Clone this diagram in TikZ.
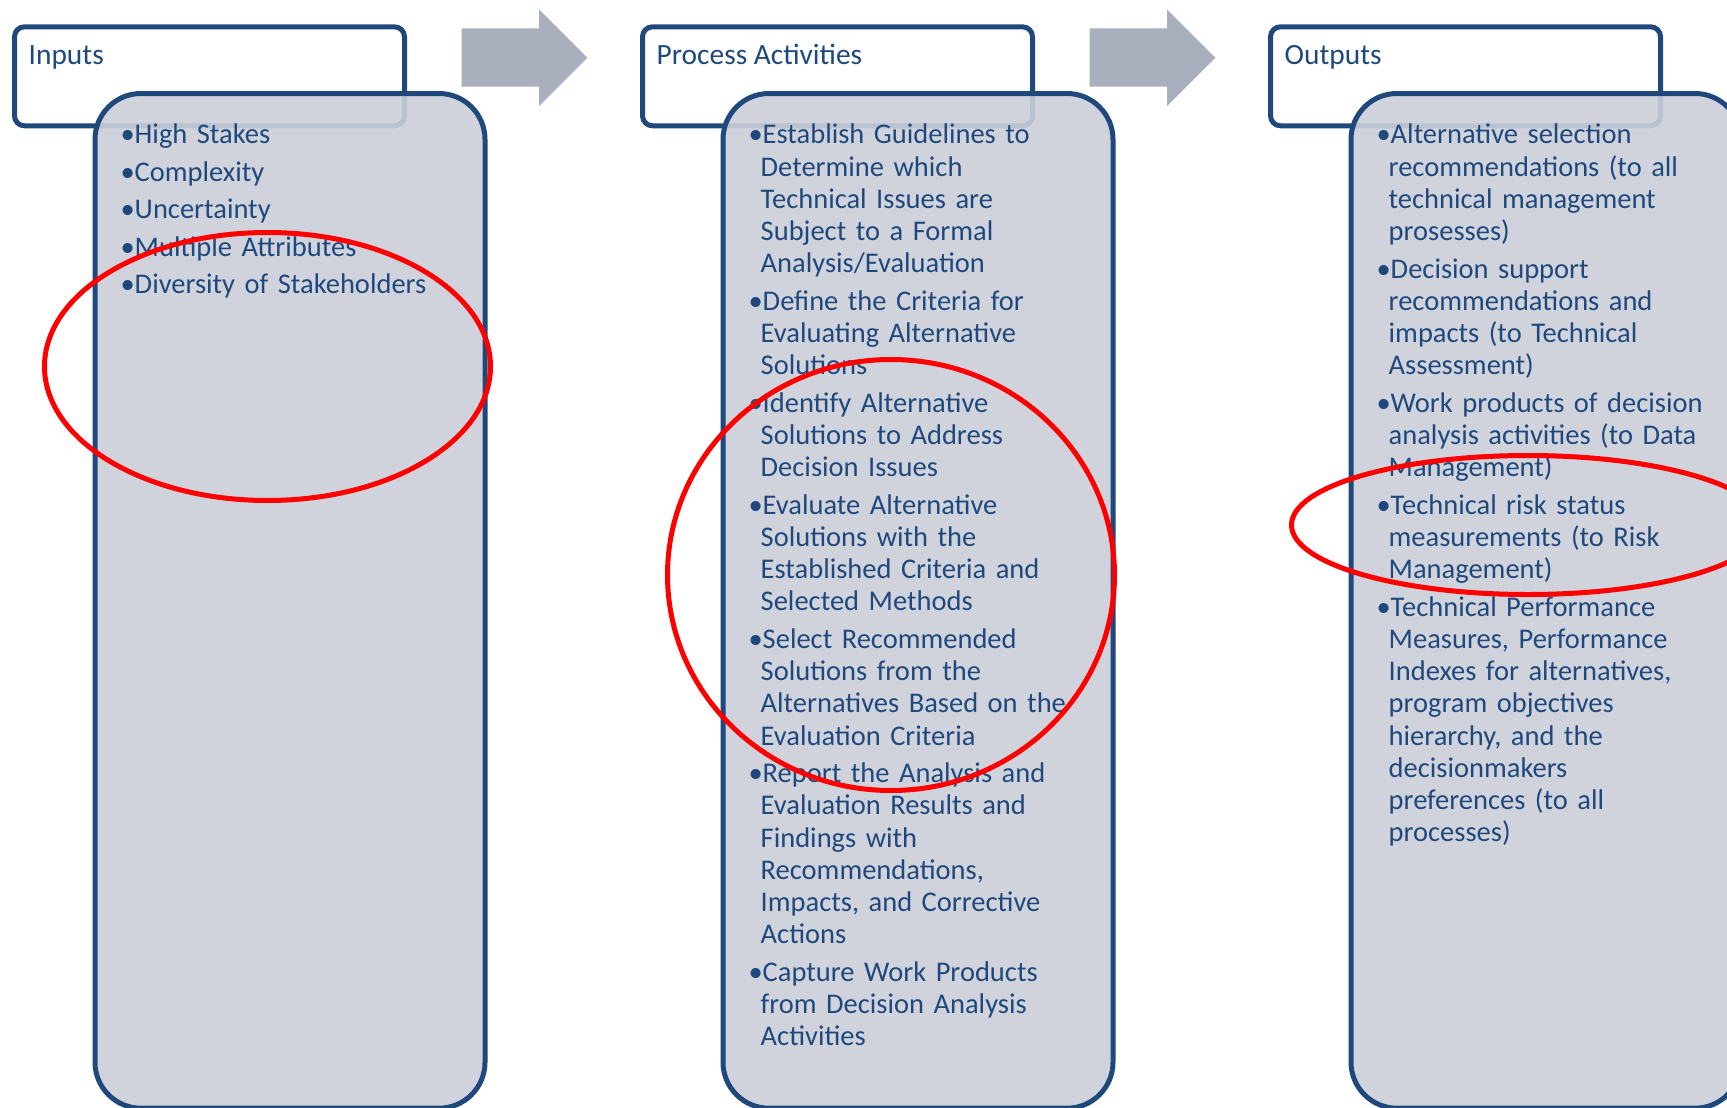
\documentclass[tikz,border=0pt]{standalone}
\usepackage{fontspec}
\setmainfont{Carlito}
\definecolor{bdr}{RGB}{31,73,125}
\definecolor{txt}{RGB}{31,73,125}
\definecolor{bodyfill}{RGB}{203,207,217}
\definecolor{arrowgrey}{RGB}{170,175,189}
\definecolor{ringred}{RGB}{255,0,0}
\newcommand\bitem[1]{\par\hangindent=12pt\hangafter=1\noindent\rule{0pt}{24pt}\makebox[14pt][l]{•}#1}
\newcommand\listsetup{\setlength{\parskip}{5.2pt}\lineskiplimit=-100pt\relax}
\tikzset{
  hdrbox/.style={draw=bdr, line width=5pt, fill=white, rounded corners=10pt,
    minimum width=390pt, minimum height=99pt, anchor=north west, inner sep=0pt},
  bodybox/.style={draw=bdr, line width=5pt, fill=bodyfill, fill opacity=0.9, draw opacity=1,
    rounded corners=46pt, minimum width=390pt, minimum height=1014.7pt, anchor=north west, inner sep=0pt},
  hdrtext/.style={anchor=base west, inner sep=0pt, text=txt, font=\fontsize{29.4}{32.25}\selectfont},
  listtext/.style={anchor=north west, inner sep=0pt, text=txt, text width=450pt,
    font=\fontsize{28.5}{32.25}\selectfont},
  flowarrow/.style={fill=arrowgrey},
  redring/.style={draw=ringred, line width=5pt}
}
\begin{document}
\begin{tikzpicture}[x=1pt,y=-1pt]
\clip (0,0) rectangle (1727,1108);
\fill[white] (0,0) rectangle (1727,1108);

% ---------- Inputs ----------
\node[hdrbox] (inHdr) at (12,24.3) {};
\node[hdrtext] (inTitle) at (28.5,65) {Inputs};
\node[bodybox] (inBody) at (92.5,91) {};
\node[listtext] (inList) at (120.5,106.2) {\listsetup
\bitem{High Stakes}
\bitem{Complexity}
\bitem{Uncertainty}
\bitem{Multiple Attributes}
\bitem{Diversity of Stakeholders}\par};

% ---------- Process ----------
\node[hdrbox] (prHdr) at (640,24.3) {};
\node[hdrtext] (prTitle) at (656.5,65) {Process Activities};
\node[bodybox] (prBody) at (720.5,91) {};
\node[listtext] (prList) at (748.5,106.2) {\listsetup
\bitem{Establish Guidelines to\newline Determine which\newline Technical Issues are\newline Subject to a Formal\newline Analysis/Evaluation}
\bitem{Define the Criteria for\newline Evaluating Alternative\newline Solutions}
\bitem{Identify Alternative\newline Solutions to Address\newline Decision Issues}
\bitem{Evaluate Alternative\newline Solutions with the\newline Established Criteria and\newline Selected Methods}
\bitem{Select Recommended\newline Solutions from the\newline Alternatives Based on the\newline Evaluation Criteria}
\bitem{Report the Analysis and\newline Evaluation Results and\newline Findings with\newline Recommendations,\newline Impacts, and Corrective\newline Actions}
\bitem{Capture Work Products\newline from Decision Analysis\newline Activities}\par};

% ---------- Outputs ----------
\node[hdrbox] (ouHdr) at (1268,24.3) {};
\node[hdrtext] (ouTitle) at (1284.5,65) {Outputs};
\node[bodybox] (ouBody) at (1348.5,91) {};
\node[listtext] (ouList) at (1376.5,106.2) {\listsetup
\bitem{Alternative selection\newline recommendations (to all\newline technical management\newline prosesses)}
\bitem{Decision support\newline recommendations and\newline impacts (to Technical\newline Assessment)}
\bitem{Work products of decision\newline analysis activities (to Data\newline Management)}
\bitem{Technical risk status\newline measurements (to Risk\newline Management)}
\bitem{Technical Performance\newline Measures, Performance\newline Indexes for alternatives,\newline program objectives\newline hierarchy, and the\newline decisionmakers\newline preferences (to all\newline processes)}\par};

% ---------- flow arrows ----------
\fill[flowarrow] (461.7,28.3) -- (539,28.3) -- (539,9.3) -- (587.3,57.7) -- (539,106) -- (539,86.7) -- (461.7,86.7) -- cycle;
\fill[flowarrow] (1089.7,28.3) -- (1167,28.3) -- (1167,9.3) -- (1215.3,57.7) -- (1167,106) -- (1167,86.7) -- (1089.7,86.7) -- cycle;

% ---------- red rings ----------
\draw[redring] (267.5,366.5) ellipse [x radius=223, y radius=134];
\draw[redring] (891,575) ellipse [x radius=223.5, y radius=215.5];
\draw[redring] (1528,525) ellipse [x radius=236.5, y radius=69.5];
\end{tikzpicture}
\end{document}
